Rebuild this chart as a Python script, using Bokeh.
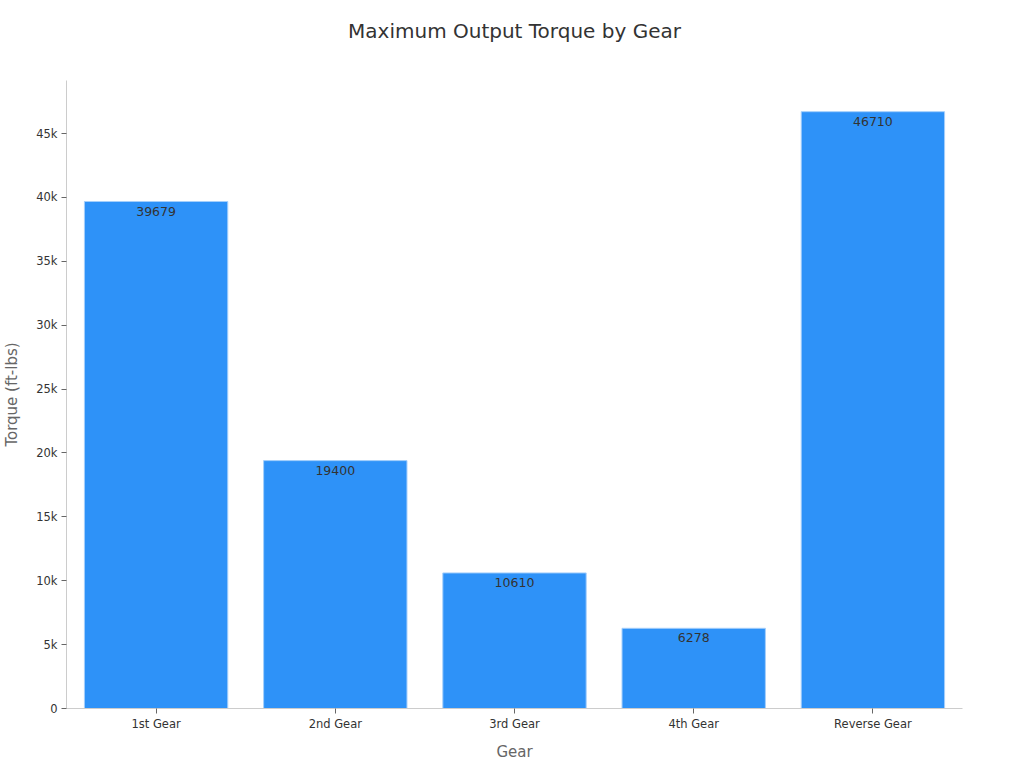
from bokeh.plotting import figure
from bokeh.models import ColumnDataSource, LabelSet, NumeralTickFormatter, SingleIntervalTicker, Range1d, FactorRange
from bokeh.core.properties import value
from bokeh.embed import file_html
from bokeh.resources import INLINE

gears = ["1st Gear", "2nd Gear", "3rd Gear", "4th Gear", "Reverse Gear"]
torque = [39679, 19400, 10610, 6278, 46710]
labels = [str(v) for v in torque]
title_text = "Maximum Output Torque by Gear"

FONT = "DejaVu Sans"

src = ColumnDataSource(dict(gear=gears, torque=torque, label=labels))

p = figure(
    x_range=FactorRange(*gears, range_padding=0),
    y_range=Range1d(0, 49150),
    frame_width=896, frame_height=628,
    output_backend="svg", toolbar_location=None,
    min_border_left=59, min_border_right=45, min_border_top=80, min_border_bottom=44,
)
# a trailing blank line lifts the title higher above the frame
p.title.text = title_text + "\n "
p.title.align = "center"
p.title.vertical_align = "top"
p.title.text_font = FONT
p.title.text_font_size = "20px"
p.title.text_font_style = "normal"
p.title.text_color = "#333333"
p.title.offset = 0
p.title.standoff = 24

p.vbar(x="gear", top="torque", width=0.8, source=src,
       fill_color="#2e92f8", line_color="#a5cffb", line_width=1)

lab = LabelSet(x="gear", y="torque", text="label", source=src,
               text_align="center", text_baseline="top", y_offset=-5,
               text_font=value(FONT), text_font_size="12.5px", text_color="#333333")
p.add_layout(lab)

p.outline_line_color = None
p.xgrid.grid_line_color = None
p.ygrid.grid_line_color = None

p.yaxis.ticker = SingleIntervalTicker(interval=5000)
p.yaxis.formatter = NumeralTickFormatter(format="0a")
p.yaxis.minor_tick_line_color = None

for ax in (p.xaxis[0], p.yaxis[0]):
    ax.axis_line_color = "#cccccc"
    ax.major_tick_line_color = "#666666"
    ax.major_tick_out = 5
    ax.major_tick_in = 0
    ax.major_label_text_font = FONT
    ax.major_label_text_font_size = "11.5px"
    ax.major_label_text_color = "#333333"
    ax.axis_label_text_font = FONT
    ax.axis_label_text_font_size = "15px"
    ax.axis_label_text_font_style = "normal"
    ax.axis_label_text_color = "#666666"

p.xaxis.axis_label = "Gear"
p.yaxis.axis_label = "Torque (ft-lbs)"
p.xaxis.major_label_standoff = 3
p.yaxis.major_label_standoff = 4
p.xaxis.axis_label_standoff = 9
p.yaxis.axis_label_standoff = 12

open("out.html", "w").write(file_html(p, INLINE))
